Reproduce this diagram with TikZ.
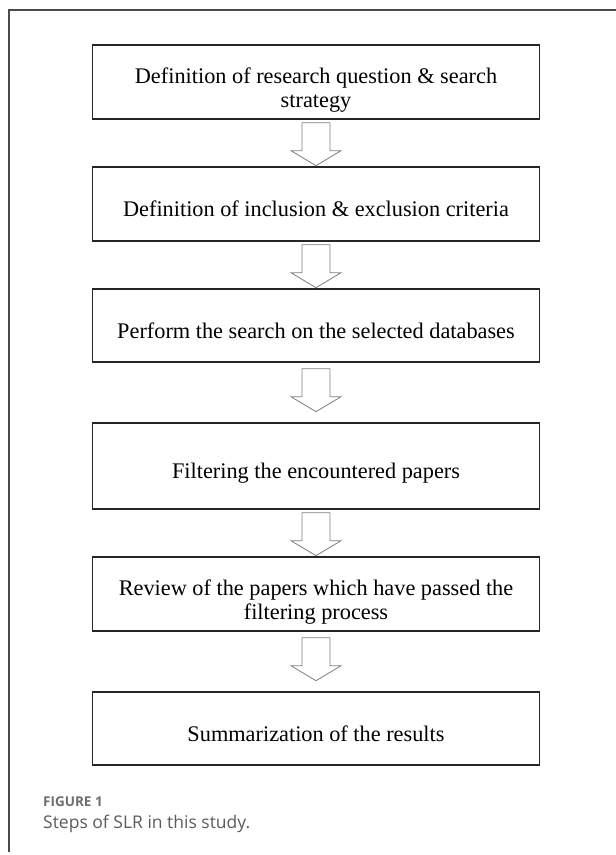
\documentclass[tikz,border=0pt]{standalone}
\usepackage{fontspec}
\setmainfont{Liberation Serif}
\newfontfamily\capfont{Open Sans}
\usetikzlibrary{calc}
\definecolor{capgray}{HTML}{5C5C5C}
\definecolor{figgray}{HTML}{6E6E6E}
\definecolor{framegray}{HTML}{4A4A4A}
\tikzset{
  stepbox/.style={draw=black!85, line width=1.4pt, minimum width=447pt, inner sep=0pt},
  steptext/.style={font=\fontsize{22.3}{24.5}\selectfont, align=center, inner sep=0pt},
  blockarrow/.style={draw=black!50, line width=0.8pt, fill=white, line join=miter},
  frameline/.style={draw=framegray, line width=1.1pt}
}
\newcommand\blockarr[2]{%
  \draw[blockarrow] ($(#1.south)+(-14,#2)$) -- ++(28,0) -- ++(0,28) -- ++(11,0)
    -- ++(-25,15) -- ++(-25,-15) -- ++(11,0) -- cycle;}
\begin{document}
\begin{tikzpicture}[x=1pt,y=-1pt]
\useasboundingbox (0,0) rectangle (616,855);
\fill[white] (0,0) rectangle (616,855);
\draw[frameline] (616,10) -- (9,10) -- (9,852);

\node[stepbox, minimum height=74pt] (b1) at (316,82) {};
\node[steptext] (t1) at ([yshift=-8pt]b1.center) {Definition of research question \& search\\strategy};

\node[stepbox, minimum height=74pt] (b2) at (316,204) {};
\node[steptext] (t2) at ([yshift=-5pt]b2.center) {Definition of inclusion \& exclusion criteria};

\node[stepbox, minimum height=73pt] (b3) at (316,325.5) {};
\node[steptext] (t3) at ([yshift=-5pt]b3.center) {Perform the search on the selected databases};

\node[stepbox, minimum height=86pt] (b4) at (316,466) {};
\node[steptext] (t4) at ([yshift=-7.5pt]b4.center) {Filtering the encountered papers};

\node[stepbox, minimum height=74pt] (b5) at (316,594) {};
\node[steptext] (t5) at ([yshift=-8pt]b5.center) {Review of the papers which have passed the\\filtering process};

\node[stepbox, minimum height=73pt] (b6) at (316,728.5) {};
\node[steptext] (t6) at ([yshift=-5pt]b6.center) {Summarization of the results};

\blockarr{b1}{3}
\blockarr{b2}{3}
\blockarr{b3}{6}
\blockarr{b4}{3}
\blockarr{b5}{6}

\node[anchor=base west, inner sep=0pt, text=figgray, font=\capfont\bfseries\fontsize{13.5}{15}\selectfont] (fig) at (43,806) {FIGURE 1};
\node[anchor=base west, inner sep=0pt, text=capgray, font=\capfont\fontsize{17.5}{20}\selectfont] (cap) at (43,828) {Steps of SLR in this study.};
\end{tikzpicture}
\end{document}
